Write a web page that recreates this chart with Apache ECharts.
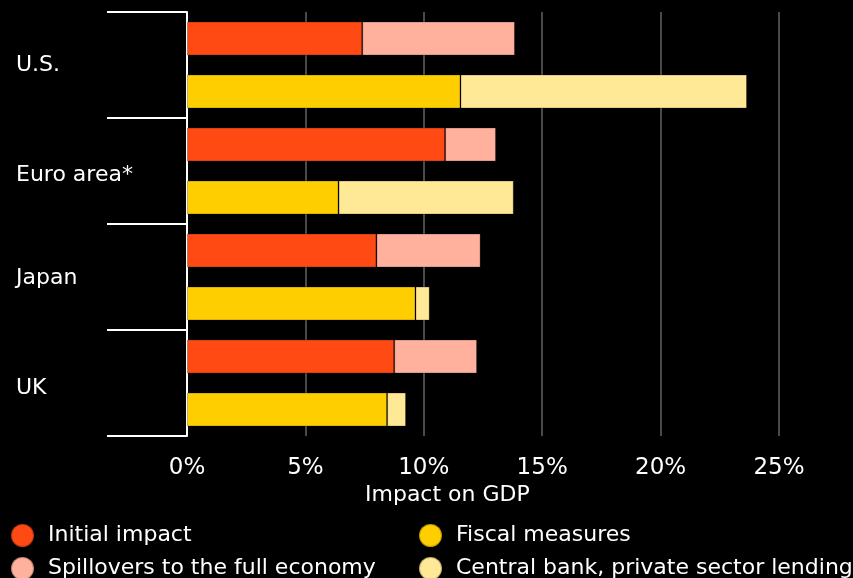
<!DOCTYPE html>
<html>
<head>
<meta charset="utf-8">
<script src="https://cdn.jsdelivr.net/npm/echarts@6/dist/echarts.min.js"></script>
<style>
html,body{margin:0;padding:0;background:#000;}
#chart{width:853px;height:578px;}
</style>
</head>
<body>
<div id="chart"></div>
<script>
var categories = ['U.S.', 'Euro area*', 'Japan', 'UK'];
var initialImpact = [7.4, 10.9, 8.0, 8.75];
var spillovers = [6.45, 2.15, 4.4, 3.5];
var fiscalMeasures = [11.55, 6.4, 9.65, 8.45];
var centralBank = [12.1, 7.4, 0.6, 0.8];
var xTicks = [0, 5, 10, 15, 20, 25];

var seriesNames = ['Initial impact', 'Spillovers to the full economy', 'Fiscal measures', 'Central bank, private sector lending'];
var colors = ['#FF4A14', '#FFB19E', '#FFCE00', '#FFE996'];

// two rows per country: row 0 = impact (red), row 1 = policy (yellow)
var rows = [];
categories.forEach(function (c) { rows.push(c + '|impact'); rows.push(c + '|policy'); });
function rowData(values, rowIdx) {
  var out = [];
  categories.forEach(function (c, i) {
    out.push(rowIdx === 0 ? values[i] : '-');
    out.push(rowIdx === 1 ? values[i] : '-');
  });
  return out;
}
var seriesValues = [
  rowData(initialImpact, 0), rowData(spillovers, 0),
  rowData(fiscalMeasures, 1), rowData(centralBank, 1)
];

var font = 'DejaVu Sans';
var labelShift = [0, 8, 2, 10];
var rich = {};
labelShift.forEach(function (s, i) {
  rich['l' + i] = {color: '#fff', fontSize: 22, fontFamily: font, padding: [s, 0, 0, 0]};
});

var chart = echarts.init(document.getElementById('chart'), null, {renderer: 'canvas'});
chart.setOption({
  backgroundColor: '#000',
  animation: false,
  textStyle: {fontFamily: font},
  grid: {left: 187, right: 0, top: 12, bottom: 142, containLabel: false},
  xAxis: {
    type: 'value', min: 0, max: 28, interval: 5,
    axisLine: {show: false}, axisTick: {show: false},
    splitLine: {showMaxLine: false, lineStyle: {color: '#4a4a4a', width: 2}},
    axisLabel: {
      color: '#fff', fontSize: 23, fontFamily: font, margin: 21,
      formatter: function (v) { return xTicks.indexOf(v) >= 0 ? v + '%' : ''; }
    }
  },
  yAxis: [{
    type: 'category', data: rows, inverse: true,
    axisLine: {show: false}, axisTick: {show: false}, axisLabel: {show: false}
  }, {
    type: 'category', data: categories, inverse: true, position: 'left',
    axisLine: {show: true, lineStyle: {color: '#fff', width: 2}},
    axisTick: {show: true, length: 80, lineStyle: {color: '#fff', width: 2}},
    axisLabel: {
      color: '#fff', fontSize: 22, fontFamily: font, align: 'left', margin: 171,
      formatter: function (v, i) { return '{l' + i + '|' + v + '}'; },
      rich: rich
    }
  }],
  legend: [{
    data: seriesNames.slice(0, 2), orient: 'vertical', left: 10, top: 523, height: 80, padding: 0,
    icon: 'circle', itemWidth: 23, itemHeight: 23, itemGap: 8,
    textStyle: {color: '#fff', fontSize: 22, lineHeight: 23, fontFamily: font, padding: [0, 0, 0, 9]}
  }, {
    data: seriesNames.slice(2), orient: 'vertical', left: 418, top: 523, height: 80, padding: 0,
    icon: 'circle', itemWidth: 23, itemHeight: 23, itemGap: 8,
    textStyle: {color: '#fff', fontSize: 22, lineHeight: 23, fontFamily: font, padding: [0, 0, 0, 9]}
  }],
  graphic: [{
    type: 'text', left: 365, top: 484,
    style: {text: 'Impact on GDP', fill: '#fff', font: '22px "DejaVu Sans"'}
  }],
  series: seriesNames.map(function (n, i) {
    return {
      name: n, type: 'bar', stack: 'all', yAxisIndex: 0,
      barWidth: 34, data: seriesValues[i],
      itemStyle: {color: colors[i], borderColor: 'rgba(0,0,0,0.25)', borderWidth: 1}
    };
  })
});
</script>
</body>
</html>
